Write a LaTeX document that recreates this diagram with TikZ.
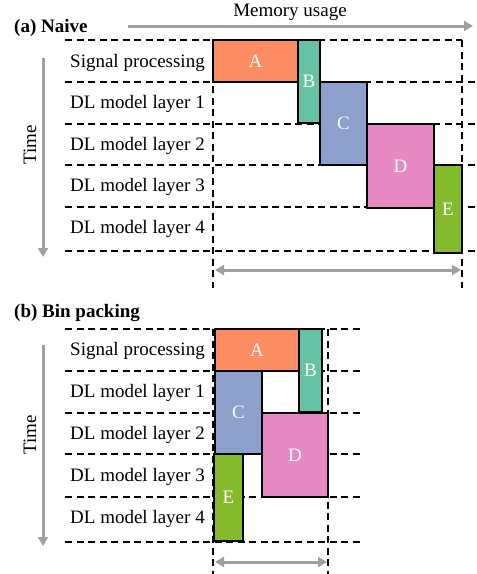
\documentclass[tikz,border=0pt]{standalone}
\usepackage{fontspec}
\setmainfont{Liberation Serif}
\usetikzlibrary{arrows.meta}
\definecolor{cA}{HTML}{FC8D62}
\definecolor{cB}{HTML}{66C2A5}
\definecolor{cC}{HTML}{8DA0CB}
\definecolor{cD}{HTML}{E78AC3}
\definecolor{cE}{HTML}{84BB2C}
\definecolor{arrgray}{HTML}{A0A0A0}
\begin{document}
\begin{tikzpicture}[x=1pt,y=-1pt,
  every node/.style={font=\fontsize{19}{22}\selectfont},
  dline/.style={black,line width=2pt,dash pattern=on 7pt off 4.5pt},
  garrow/.style={arrgray,line width=3pt,-{Triangle[length=9pt,width=10pt]}},
  gdarrow/.style={arrgray,line width=3pt,{Triangle[length=9pt,width=10pt]}-{Triangle[length=9pt,width=10pt]}},
  block/.style={draw=black,line width=1.4pt,anchor=north west,inner sep=0pt,outer sep=0pt,text=white},
  rowlabel/.style={anchor=west,inner sep=0pt},
  title/.style={anchor=west,inner sep=0pt,font=\fontsize{19}{22}\selectfont\bfseries}]
\useasboundingbox (0,0) rectangle (477,574);

% ---------- (a) Naive ----------
\node[title] (ta) at (14,28) {(a) Naive};
\node[inner sep=0pt] (mem) at (290,12) {Memory usage};
\coordinate (ma1) at (128,26);
\coordinate (ma2) at (473,26);
\draw[garrow] (ma1) -- (ma2);

\coordinate (ta1) at (43,58);
\coordinate (ta2) at (43,257);
\draw[garrow] (ta1) -- (ta2);
\node[rotate=90,inner sep=0pt] (timea) at (30,145) {Time};

% dashed grid
\draw[dline] (65,40) -- (462,40);
\foreach \y in {82,124,165,207,251} \draw[dline] (65,\y) -- (476,\y);
\draw[dline] (213,40) -- (213,288);
\draw[dline] (462,40) -- (462,288);

\node[rowlabel] (a1) at (70,63) {Signal processing};
\node[rowlabel] (a2) at (70,104) {DL model layer 1};
\node[rowlabel] (a3) at (70,146) {DL model layer 2};
\node[rowlabel] (a4) at (70,187) {DL model layer 3};
\node[rowlabel] (a5) at (70,229) {DL model layer 4};

\node[block,fill=cA,minimum width=85pt,minimum height=42pt] (aA) at (213,40) {A};
\node[block,fill=cB,minimum width=22pt,minimum height=83pt] (aB) at (298,40) {B};
\node[block,fill=cC,minimum width=47pt,minimum height=83pt] (aC) at (320,82) {C};
\node[block,fill=cD,minimum width=67pt,minimum height=84pt] (aD) at (367,124) {D};
\node[block,fill=cE,minimum width=28pt,minimum height=88pt] (aE) at (434,165) {E};

\coordinate (wa1) at (215,270);
\coordinate (wa2) at (461,270);
\draw[gdarrow] (wa1) -- (wa2);

% ---------- (b) Bin packing ----------
\node[title] (tb) at (14,313) {(b) Bin packing};

\coordinate (tb1) at (43,345);
\coordinate (tb2) at (43,546);
\draw[garrow] (tb1) -- (tb2);
\node[rotate=90,inner sep=0pt] (timeb) at (30,435) {Time};

\foreach \y in {329,371,413,454,497,542} \draw[dline] (65,\y) -- (362,\y);
\draw[dline] (213,329) -- (213,574);
\draw[dline] (328,329) -- (328,574);

\node[rowlabel] (b1) at (70,351) {Signal processing};
\node[rowlabel] (b2) at (70,393) {DL model layer 1};
\node[rowlabel] (b3) at (70,435) {DL model layer 2};
\node[rowlabel] (b4) at (70,477) {DL model layer 3};
\node[rowlabel] (b5) at (70,519) {DL model layer 4};

\node[block,fill=cA,minimum width=84pt,minimum height=42pt] (bA) at (215,329) {A};
\node[block,fill=cB,minimum width=23pt,minimum height=83pt] (bB) at (299,329) {B};
\node[block,fill=cC,minimum width=47pt,minimum height=83pt] (bC) at (215,371) {C};
\node[block,fill=cD,minimum width=66pt,minimum height=84pt] (bD) at (262,413) {D};
\node[block,fill=cE,minimum width=29pt,minimum height=87pt] (bE) at (214,454) {E};

\coordinate (wb1) at (215,562);
\coordinate (wb2) at (327,562);
\draw[gdarrow] (wb1) -- (wb2);
\end{tikzpicture}
\end{document}
